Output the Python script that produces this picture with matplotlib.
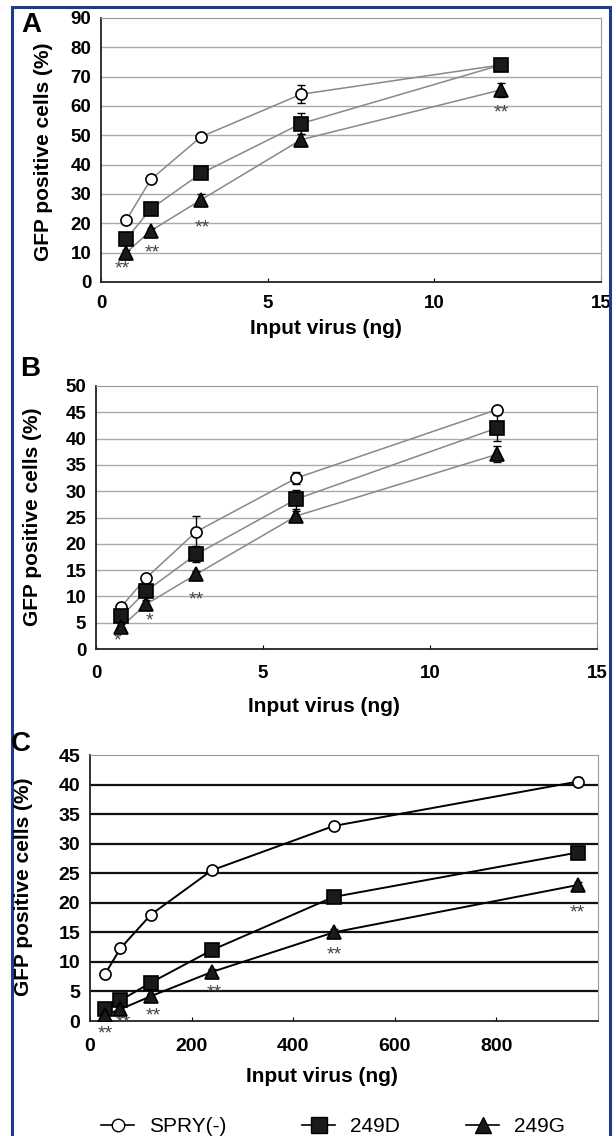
import matplotlib
matplotlib.use("Agg")
import matplotlib.pyplot as plt
from matplotlib.patches import Rectangle
from matplotlib.lines import Line2D

plt.rcParams['font.family'] = ['Liberation Sans', 'DejaVu Sans']

W, H = 616, 1136

# panel A / B: input virus in ng
x_ab = [0.75, 1.5, 3, 6, 12]
a_spry = [21, 35, 49.5, 64, 74]
a_spry_err = [1.2, 0.8, 1.0, 3.0, 0.8]
a_249d = [14.5, 25, 37, 54, 74]
a_249d_err = [1.0, 1.0, 1.2, 3.5, 1.0]
a_249g = [10, 17.5, 28, 48.5, 65.5]
a_249g_err = [1.0, 1.0, 2.0, 2.0, 2.5]
a_stars = [(0.65, 4.5, "**"), (1.55, 10, "**"), (3.05, 18.5, "**"), (12, 57.5, "**")]

b_spry = [8, 13.5, 22.3, 32.5, 45.5]
b_spry_err = [0.6, 0.5, 3.0, 1.2, 0.6]
b_249d = [6.2, 11, 18, 28.5, 42]
b_249d_err = [0.8, 0.8, 1.5, 1.8, 2.5]
b_249g = [4.2, 8.5, 14.2, 25.3, 37]
b_249g_err = [0.6, 0.8, 0.6, 1.0, 1.5]
b_stars = [(0.65, 1.5, "*"), (1.6, 5.3, "*"), (3.0, 9.3, "**")]

x_c = [30, 60, 120, 240, 480, 960]
c_spry = [8, 12.3, 18, 25.5, 33, 40.5]
c_spry_err = [0.4, 0.4, 0.5, 0.5, 0.4, 0.8]
c_249d = [2, 3.5, 6.5, 12, 21, 28.5]
c_249d_err = [0.3, 0.4, 0.4, 0.5, 0.5, 0.5]
c_249g = [1, 2, 4.2, 8.3, 15, 23]
c_249g_err = [0.3, 0.3, 0.4, 0.5, 0.6, 0.5]
c_stars = [(30, -2.2, "**"), (65, -0.3, "**"), (125, 0.8, "**"), (245, 4.8, "**"),
           (480, 11.2, "**"), (960, 18.3, "**")]

labels = ["SPRY(-)", "249D", "249G"]


def box(left, top, right, bottom):
    return [left / W, 1 - bottom / H, (right - left) / W, (bottom - top) / H]


def ftext(px, py, s, **kw):
    fig.text(px / W, 1 - py / H, s, ha="center", va="center", **kw)


fig = plt.figure(figsize=(W / 100, H / 100), dpi=100)
fig.patches.append(Rectangle((12 / W, -0.01), 598 / W, 1.01 - 7 / H, transform=fig.transFigure,
                             fill=False, edgecolor="#1d3c8c", lw=2.2))


def panel(rect, x, series, errs, stars, ylim, ystep, xlim, xticks, line_col, grid_col, grid_lw, tpad, tsize):
    ax = fig.add_axes(rect)
    for yv in range(ystep, ylim, ystep):
        ax.axhline(yv, color=grid_col, lw=grid_lw, zorder=1)
    markers = [("o", "white", 8), ("s", "#1a1a1a", 9.5), ("^", "#1a1a1a", 9.5)]
    for (m, fc, ms), ys, er in zip(markers, series, errs):
        ax.plot(x, ys, color=line_col, lw=1.1 if line_col != "black" else 1.4, zorder=2)
        ax.errorbar(x, ys, yerr=er, fmt="none", ecolor="black", elinewidth=1, capsize=3, zorder=3)
        ax.plot(x, ys, ls="none", marker=m, ms=ms, mfc=fc, mec="black", mew=1.2, zorder=4)
    for sx, sy, s in stars:
        ax.text(sx, sy, s, ha="center", va="center", fontsize=14, color="#444444")
    ax.set_xlim(*xlim)
    ax.set_ylim(0, ylim)
    ax.set_xticks(xticks)
    ax.set_yticks(range(0, ylim + 1, ystep))
    ax.tick_params(axis="x", direction="in", length=3, pad=tpad, labelsize=tsize)
    ax.tick_params(axis="y", length=0, pad=7, labelsize=tsize)
    for lab in ax.get_xticklabels() + ax.get_yticklabels():
        lab.set_fontweight("bold")
    for side in ["left", "bottom"]:
        ax.spines[side].set_color("#222222")
        ax.spines[side].set_linewidth(1.3)
    ax.spines["top"].set_color("#999999")
    ax.spines["right"].set_color("#999999")
    return ax


axA = panel(box(101, 18, 601, 282), x_ab, [a_spry, a_249d, a_249g], [a_spry_err, a_249d_err, a_249g_err],
            a_stars, 90, 10, (0, 15), [0, 5, 10, 15], "#888888", "#aaaaaa", 1.0, 9.5, 13.5)
axB = panel(box(96, 386, 597, 649), x_ab, [b_spry, b_249d, b_249g], [b_spry_err, b_249d_err, b_249g_err],
            b_stars, 50, 5, (0, 15), [0, 5, 10, 15], "#888888", "#aaaaaa", 1.0, 11.5, 13.5)
axC = panel(box(90, 755, 598, 1021), x_c, [c_spry, c_249d, c_249g], [c_spry_err, c_249d_err, c_249g_err],
            c_stars, 45, 5, (0, 1000), [0, 200, 400, 600, 800], "black", "#111111", 1.6, 12, 14)

# panel letters, axis titles
for px, py, s in [(31, 25, "A"), (30, 369, "B"), (21, 744, "C")]:
    ftext(px, py, s, fontsize=20, fontweight="bold")
for px, py in [(44, 152), (33, 517), (24, 887)]:
    ftext(px, py, "GFP positive cells (%)", fontsize=15, fontweight="bold", rotation=90)
for px, py in [(326, 328), (324, 707), (322, 1076)]:
    ftext(px, py, "Input virus (ng)", fontsize=15, fontweight="bold")

handles = [Line2D([], [], color="black", lw=1.2, marker="o", ms=9, mfc="white", mec="black"),
           Line2D([], [], color="black", lw=1.2, marker="s", ms=11, mfc="#1a1a1a", mec="black"),
           Line2D([], [], color="black", lw=1.2, marker="^", ms=11, mfc="#1a1a1a", mec="black")]
for h, lab, px in zip(handles, labels, [101, 302, 466]):
    fig.legend([h], [lab], loc="center left", bbox_to_anchor=(px / W, 1 - 1127 / H), frameon=False,
               fontsize=15, handlelength=1.6, handletextpad=0.7, borderpad=0, borderaxespad=0)

fig.savefig("out.png", dpi=100)
